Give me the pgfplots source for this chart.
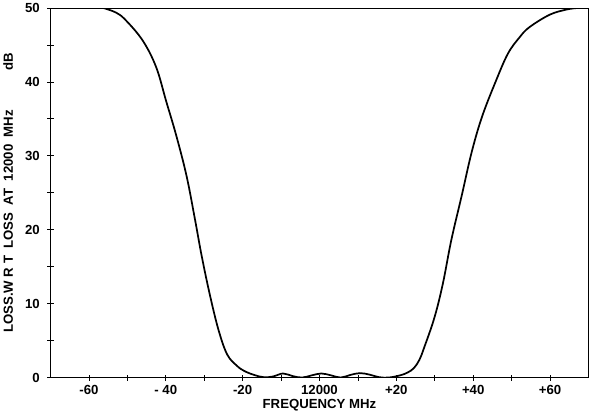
\documentclass[border=0pt]{standalone}
\usepackage{fontspec}
\setmainfont{Liberation Sans}
\usepackage{pgfplots}
\pgfplotsset{compat=1.18}

\begin{document}
\begin{tikzpicture}[font=\fontsize{13}{15}\selectfont\bfseries]
\begin{axis}[
	scale only axis,
	width=530pt, height=364pt,
	xmin=-70, xmax=70,
	ymin=0, ymax=50,
	xtick={-60,-40,-20,0,20,40,60},
	xticklabels={-60,- 40,-20,12000,+20,+40,+60},
	minor xtick={-50,-30,-10,10,30,50},
	ytick={0,10,20,30,40,50},
	minor ytick={5,15,25,35,45},
	tick pos=left,
	tick align=center,
	major tick length=6pt,
	minor tick length=6pt,
	every tick/.style={black, line width=0.8pt},
	axis line style={line width=1pt},
	/pgf/number format/assume math mode=true,
	xticklabel style={yshift=-1pt},
	yticklabel style={xshift=-4pt},
	xlabel={FREQUENCY MHz},
	xlabel style={yshift=2pt},
	ylabel={LOSS.W R T\ \ LOSS\ \ AT\ \ 12000\ \ MHz\hspace{3em}dB},
	ylabel style={yshift=5pt},
	]
	\addplot[black, line width=1.7pt, smooth, tension=0.6] coordinates {
		(-56.2,50) (-53,49.4) (-50.5,48.4) (-46,45.6) (-42.5,42.0)
		(-39.9,37.4) (-37.3,32.8) (-34.6,27.3) (-32.4,21.4) (-30.6,16.3)
		(-28.4,10.9) (-26.2,6.3) (-24,3.1) (-21.5,1.6) (-19.6,0.9)
		(-17,0.35) (-14.5,0.05) (-12,0.15) (-9.5,0.55) (-7,0.2)
		(-4.5,0.0) (-2,0.3) (0.5,0.55) (3,0.3) (5.5,0.0)
		(8,0.35) (10.5,0.6) (13,0.4) (15.5,0.05) (18,0.0)
		(21,0.3) (23,0.7) (24.6,1.3) (26,2.4) (27.2,4.0)
		(29.9,8.1) (32.1,12.7) (34.3,18.6) (37,24.6) (39.6,30.5)
		(42.3,35.3) (45.8,40.0) (49,43.8) (52,46.0) (54.6,47.4)
		(59.9,49.1) (64.3,49.8) (67,50)
	};
\end{axis}
\end{tikzpicture}
\end{document}
